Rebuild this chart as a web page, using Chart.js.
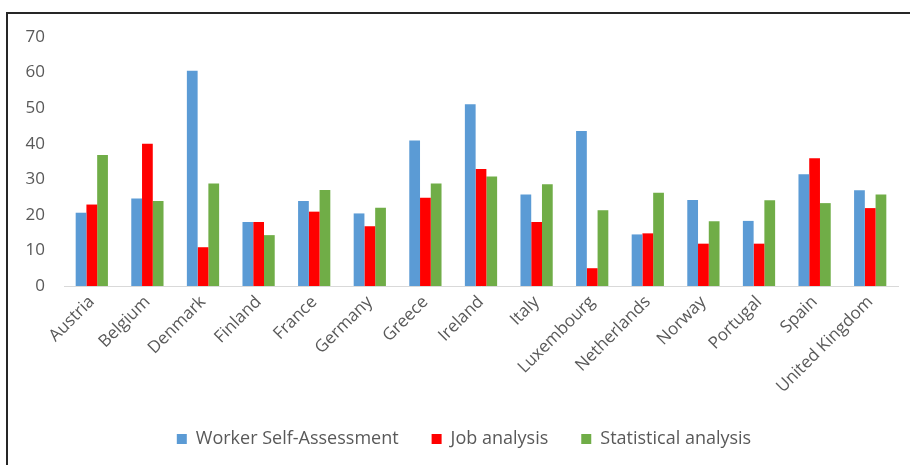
<!DOCTYPE html>
<html>
<head>
<meta charset="utf-8">
<script src="https://cdn.jsdelivr.net/npm/chart.js@4/dist/chart.umd.min.js"></script>
<style>
  html, body { margin: 0; padding: 0; background: #fff; }
  #wrap { position: relative; width: 910px; height: 465px; overflow: hidden; }
  #frame { position: absolute; left: 6px; top: 12px; width: 960px; height: 520px;
           border-top: 2px solid #262626; border-left: 2px solid #262626; }
  canvas { position: absolute; left: 0; top: 0; }
</style>
</head>
<body>
<div id="wrap">
  <div id="frame"></div>
  <canvas id="c" width="910" height="465"></canvas>
</div>
<script>
const categories = ["Austria","Belgium","Denmark","Finland","France","Germany","Greece","Ireland","Italy","Luxembourg","Netherlands","Norway","Portugal","Spain","United Kingdom"];
const workerSelfAssessment = [20.6, 24.6, 60.5, 18.0, 23.9, 20.4, 40.9, 51.1, 25.7, 43.6, 14.5, 24.2, 18.3, 31.4, 26.9];
const jobAnalysis          = [22.9, 40.0, 10.9, 18.0, 20.9, 16.8, 24.8, 32.9, 18.0, 5.0, 14.8, 11.9, 11.9, 35.9, 21.9];
const statisticalAnalysis  = [36.8, 23.9, 28.8, 14.3, 27.0, 22.0, 28.8, 30.8, 28.6, 21.3, 26.2, 18.2, 24.1, 23.3, 25.7];
const seriesNames = ["Worker Self-Assessment", "Job analysis", "Statistical analysis"];
const yTicks = [0, 10, 20, 30, 40, 50, 60, 70];

const FONT = "'Open Sans', 'Liberation Sans', sans-serif";
const TXT = "#595959";

// Place the legend box where the reference has it (centred a little right of the plot).
const legendPlacer = {
  id: 'legendPlacer',
  afterLayout(chart) {
    const l = chart.legend;
    if (!l) return;
    l.left = 30; l.right = 898;
    l.top = 397; l.bottom = 465;
  }
};

new Chart(document.getElementById('c'), {
  type: 'bar',
  data: {
    labels: categories,
    datasets: [
      { label: seriesNames[0], data: workerSelfAssessment, backgroundColor: '#5B9BD5' },
      { label: seriesNames[1], data: jobAnalysis, backgroundColor: '#FF0000' },
      { label: seriesNames[2], data: statisticalAnalysis, backgroundColor: '#70AD47' }
    ]
  },
  plugins: [legendPlacer],
  options: {
    responsive: false,
    animation: false,
    devicePixelRatio: 1,
    layout: { padding: { left: 0, right: 12, top: 37, bottom: 0 } },
    datasets: { bar: { categoryPercentage: 0.58, barPercentage: 1.0 } },
    plugins: {
      tooltip: { enabled: false },
      legend: {
        position: 'bottom',
        maxHeight: 65,
        labels: {
          boxWidth: 10, boxHeight: 10, padding: 33,
          color: TXT,
          font: { family: FONT, size: 18 }
        }
      }
    },
    scales: {
      x: {
        grid: { display: false, drawTicks: false },
        border: { display: true, color: '#D9D9D9', width: 1 },
        ticks: {
          color: TXT, font: { family: FONT, size: 17 },
          maxRotation: 45, minRotation: 45, autoSkip: false, padding: 6
        },
        afterFit: (s) => { s.height = 118; }
      },
      y: {
        min: 0, max: 70,
        grid: { display: false, drawTicks: false },
        border: { display: false },
        ticks: {
          color: TXT, font: { family: FONT, size: 17 }, padding: 19,
          stepSize: 10,
          callback: (v) => yTicks.includes(v) ? String(v) : ''
        },
        afterFit: (s) => { s.width = 64; }
      }
    }
  }
});
</script>
</body>
</html>
